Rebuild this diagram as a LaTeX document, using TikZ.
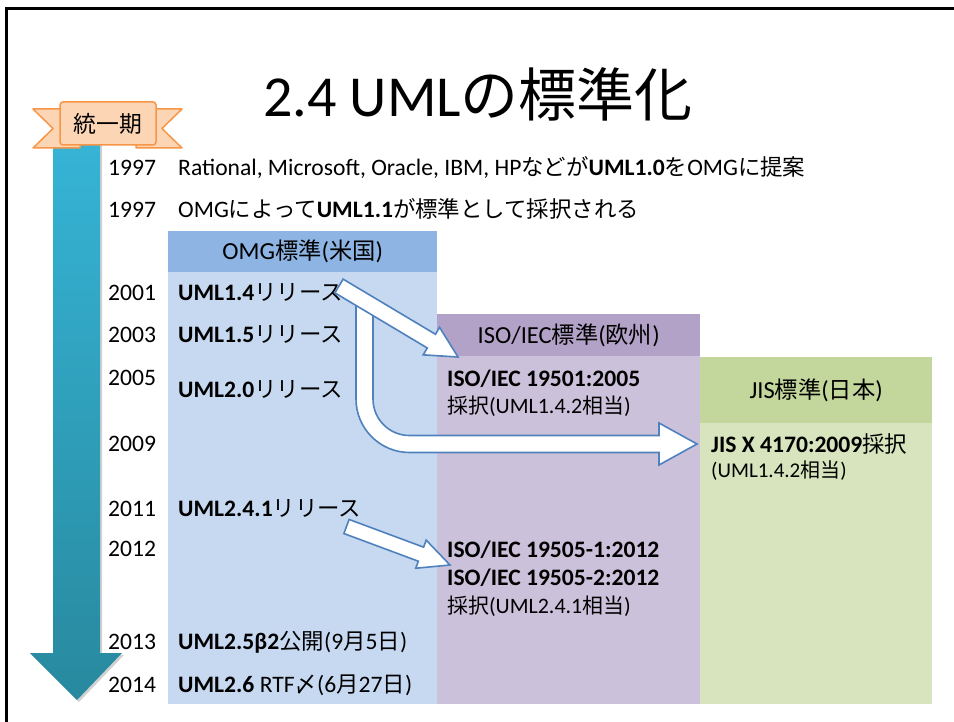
\documentclass[tikz,border=0pt]{standalone}
\usepackage{fontspec}
\setmainfont{Carlito}
\newfontfamily\jp[Scale=0.95]{Noto Sans CJK JP}
\usetikzlibrary{calc}
\newcommand\J[1]{{\jp #1}}
\definecolor{omgH}{RGB}{141,180,226}
\definecolor{omgB}{RGB}{198,217,241}
\definecolor{isoH}{RGB}{179,162,199}
\definecolor{isoB}{RGB}{204,193,218}
\definecolor{jisH}{RGB}{195,214,155}
\definecolor{jisB}{RGB}{215,228,189}
\definecolor{arrB}{RGB}{79,129,189}
\definecolor{banF}{RGB}{252,213,181}
\definecolor{banO}{RGB}{247,150,70}
\definecolor{tlTop}{RGB}{54,180,214}
\definecolor{tlBot}{RGB}{40,137,158}
\tikzset{
  txt/.style={anchor=base west, inner sep=0pt, font=\fontsize{23.6}{27}\selectfont},
  smalltxt/.style={anchor=base west, inner sep=0pt, font=\fontsize{22}{25}\selectfont},
  tinytxt/.style={anchor=base west, inner sep=0pt, font=\fontsize{21}{23}\selectfont},
  hdr/.style={anchor=north west, inner sep=0pt, font=\fontsize{24.5}{26}\selectfont},
  colbody/.style={anchor=north west, inner sep=0pt, draw=none},
  barrow/.style={draw=arrB, fill=white, line width=1.6pt, line join=miter},
  ribbon/.style={draw=banO, fill=banF, line width=1.5pt, line join=round},
}
\newcommand\blockarr[5]{%
  \coordinate (ba-h) at ($(#2)!#5!(#1)$);
  \draw[barrow] ($(#1)!#3!90:(#2)$) -- ($(ba-h)!#3!90:(#2)$) -- ($(ba-h)!#4!90:(#2)$)
    -- (#2) -- ($(ba-h)!#4!-90:(#2)$) -- ($(ba-h)!#3!-90:(#2)$) -- ($(#1)!#3!-90:(#2)$) -- cycle;
}
\begin{document}
\begin{tikzpicture}[x=1pt,y=-1pt]
\useasboundingbox (0,0) rectangle (954,722);
\clip (0,0) rectangle (954,722);
\fill[white] (0,0) rectangle (954,722);
\draw[line width=3pt] (6,8.5) rectangle (980,760);

% title
\node[anchor=base, inner sep=0pt, font=\fontsize{58}{64}\selectfont] (title) at (478,117) {2.4 UML{\jp\fontsize{61}{64}\selectfont の標準化}};

% columns
\node[colbody, fill=omgB, minimum width=269pt, minimum height=432pt] (omgbody) at (168,272) {};
\node[hdr, fill=omgH, minimum width=269pt, minimum height=41pt] (omghdr) at (168,231) {OMG\J{標準}(\J{米国})};
\node[colbody, fill=isoB, minimum width=263pt, minimum height=348pt] (isobody) at (437,356) {};
\node[hdr, fill=isoH, minimum width=263pt, minimum height=42pt] (isohdr) at (437,314) {ISO/IEC\J{標準}(\J{欧州})};
\node[colbody, fill=jisB, minimum width=232pt, minimum height=281pt] (jisbody) at (700,423) {};
\node[hdr, fill=jisH, minimum width=232pt, minimum height=66pt] (jishdr) at (700,357) {JIS\J{標準}(\J{日本})};

% timeline arrow
\fill[black, opacity=0.18] (55,142) -- (102,142) -- (102,655) -- (124,655) -- (79,702) -- (32,655) -- (55,655) -- cycle;
\shade[top color=tlTop, bottom color=tlBot] (53,140) -- (100,140) -- (100,653) -- (122,653) -- (77,700) -- (30,653) -- (53,653) -- cycle;

% banner
\filldraw[ribbon] (33,109) -- (64,109) -- (64,140) -- (80,140) -- (80,148) -- (33,148) -- (53,128.5) -- cycle;
\filldraw[ribbon] (182,109) -- (152,109) -- (152,140) -- (136,140) -- (136,148) -- (182,148) -- (162,128.5) -- cycle;
\node[ribbon, rounded corners=3pt, minimum width=96pt, minimum height=43pt, inner sep=0pt,
      font=\fontsize{24}{27}\selectfont] (banner) at (108,123.5) {\J{統一期}};

% years
\node[txt] (y1) at (108,176) {1997};
\node[txt] (y2) at (108,218) {1997};
\node[txt] (y3) at (108,301) {2001};
\node[txt] (y4) at (108,343) {2003};
\node[txt] (y5) at (108,385) {2005};
\node[txt] (y6) at (108,451) {2009};
\node[txt] (y7) at (108,516) {2011};
\node[txt] (y8) at (108,556) {2012};
\node[txt] (y9) at (108,649) {2013};
\node[txt] (y10) at (108,692) {2014};

% top lines
\node[txt] (t1) at (178,176) {Rational, Microsoft, Oracle, IBM, HP\J{などが}\textbf{UML1.0}\J{を}OMG\J{に提案}};
\node[txt] (t2) at (178,218) {OMG\J{によって}\textbf{UML1.1}\J{が標準として採択される}};

% OMG column
\node[txt] (u14) at (178,301) {\textbf{UML1.4}\J{リリース}};
\node[txt] (u15) at (178,343) {\textbf{UML1.5}\J{リリース}};
\node[txt] (u20) at (178,397) {\textbf{UML2.0}\J{リリース}};
\node[txt] (u241) at (178,516) {\textbf{UML2.4.1}\J{リリース}};
\node[txt] (u25) at (178,649) {\textbf{UML2.5β2}\J{公開}(9\J{月}5\J{日})};
\node[txt] (u26) at (178,692) {\textbf{UML2.6} RTF\J{〆}(6\J{月}27\J{日})};

% ISO column
\node[txt] (iso1) at (447,386) {\textbf{ISO/IEC 19501:2005}};
\node[smalltxt] (iso1b) at (447,413) {\J{採択}(UML1.4.2\J{相当})};
\node[txt] (iso2) at (447,557) {\textbf{ISO/IEC 19505-1:2012}};
\node[txt] (iso3) at (447,585) {\textbf{ISO/IEC 19505-2:2012}};
\node[smalltxt] (iso4) at (447,613) {\J{採択}(UML2.4.1\J{相当})};

% JIS column
\node[txt] (jis1) at (711,452) {\textbf{JIS X 4170:2009}\J{採択}};
\node[tinytxt] (jis2) at (711,477) {(UML1.4.2\J{相当})};

% curved arrow (OMG -> JIS)
\draw[barrow] (356,303) -- (356,399) .. controls (356,428.5) and (380,452.5) .. (409.5,452.5)
  -- (659,452.5) -- (659,465) -- (697,444) -- (659,423) -- (659,435.5) -- (409.5,435.5)
  .. controls (389.3,435.5) and (373,419.2) .. (373,399) -- (373,303) -- cycle;

% straight arrows
\coordinate (a1s) at (339,286);
\coordinate (a1e) at (458,357);
\blockarr{a1s}{a1e}{8pt}{16pt}{31pt}
\coordinate (a3s) at (346.5,526.5);
\coordinate (a3e) at (450,565);
\blockarr{a3s}{a3e}{7.5pt}{15pt}{31pt}
\end{tikzpicture}
\end{document}
